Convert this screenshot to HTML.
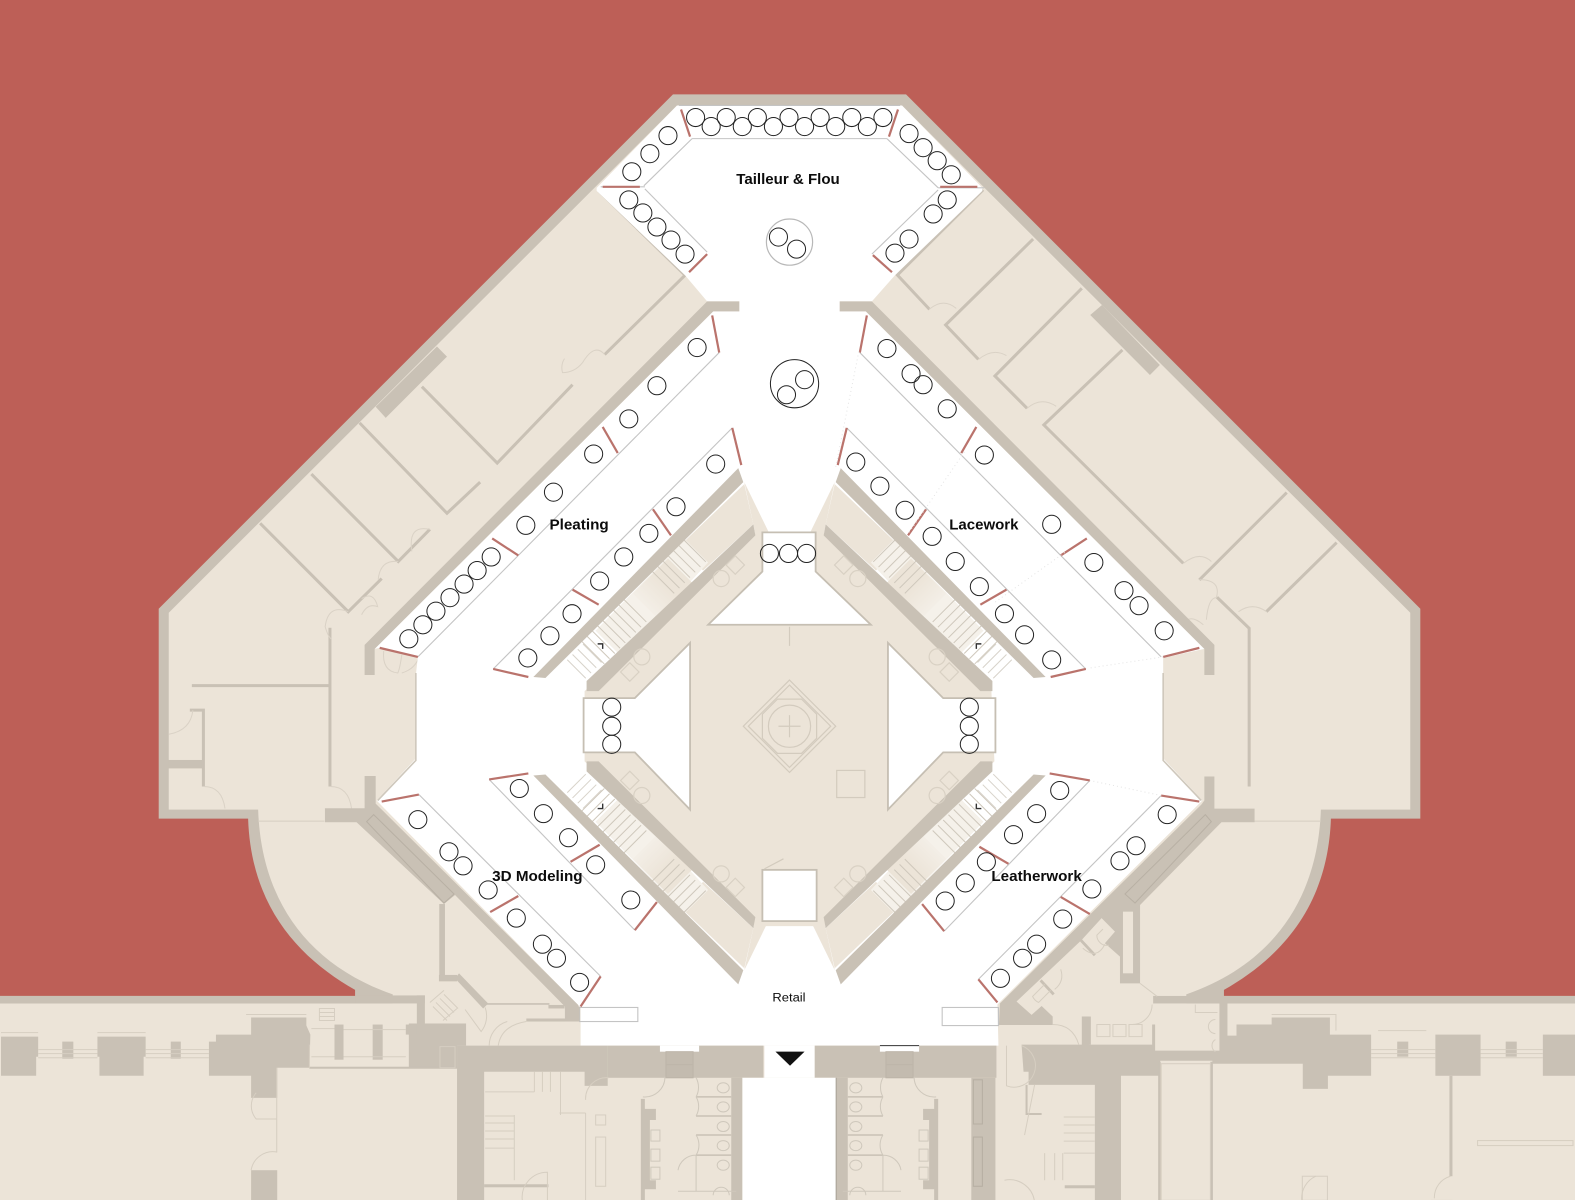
<!DOCTYPE html>
<html><head><meta charset="utf-8"><title>Floor plan</title>
<style>html,body{margin:0;padding:0;background:#BD5F57}svg{display:block}text{font-family:"Liberation Sans",sans-serif;fill:#0c0c0c}</style></head>
<body>
<svg xmlns="http://www.w3.org/2000/svg" width="1575" height="1200" viewBox="0 0 1568 1194.67" preserveAspectRatio="none">
<defs>
<linearGradient id="land" gradientUnits="userSpaceOnUse" x1="660" y1="578" x2="625" y2="613"><stop offset="0" stop-color="#ECE4D8"/><stop offset="1" stop-color="#F8F5F0"/></linearGradient>
<g id="arm">
 <polygon points="741,480 750,522 752,533 590,690 740,690 780,560" fill="#ECE4D8"/>
 <polygon points="741,482 750,522 700,568 675,545" fill="#ECE4D8"/>
 <polygon points="682,537 705,560 605,668 579,642" fill="#F5F1EA"/>
 <polygon points="665,556 691,582 656,617 630,591" fill="url(#land)"/>
 <polygon points="590,625 616,651 596,678 570,650" fill="#fff"/>
 <line x1="692" y1="548" x2="656.5" y2="583.5" stroke="#CFC8BC" stroke-width="31" stroke-dasharray="1 6.4"/>
 <line x1="632.5" y1="607.5" x2="590" y2="650" stroke="#CFC8BC" stroke-width="32" stroke-dasharray="1 6.4"/>
 <line x1="590" y1="650" x2="572" y2="668" stroke="#D8D3CA" stroke-width="26" stroke-dasharray="1 6.4"/>
 <polygon points="735,466 740,480 543,675 531,674" fill="#C9C1B5"/>
 <polygon points="750,522 752,533 596,688 584,688 584,678" fill="#C9C1B5"/>
 <polyline points="595,641 600,641 600,646" fill="none" stroke="#333" stroke-width="1.4"/>
 <g fill="none" stroke="#D9D1C4" stroke-width="1.2">
  <rect x="-6.5" y="-6.5" width="13" height="13" transform="translate(732,562.5) rotate(45)"/>
  <circle cx="718" cy="576" r="8"/>
  <rect x="-6.5" y="-6.5" width="13" height="13" transform="translate(627,669) rotate(45)"/>
  <circle cx="639" cy="654" r="8"/>
 </g>
</g>
<g id="toilets">
 <polygon points="728,1073 739,1073 739,1195 728,1195" fill="#C9C1B5"/>
 <rect x="638" y="1094" width="4" height="101" fill="#C9C1B5"/>
 <polygon points="640,1104 653,1104 653,1115 647,1115 647,1175 653,1175 653,1184 640,1184" fill="#C9C1B5"/>
 <g stroke="#C9C1B5" stroke-width="1.5"><line x1="693" y1="1092" x2="728" y2="1092"/><line x1="693" y1="1111" x2="728" y2="1111"/><line x1="693" y1="1130" x2="728" y2="1130"/><line x1="693" y1="1150" x2="728" y2="1150"/></g>
 <g fill="none" stroke="#CFC8BC" stroke-width="1">
  <ellipse cx="720" cy="1083" rx="6" ry="5"/><ellipse cx="720" cy="1102" rx="6" ry="5"/><ellipse cx="720" cy="1121.5" rx="6" ry="5"/><ellipse cx="720" cy="1140.5" rx="6" ry="5"/><ellipse cx="720" cy="1160" rx="6" ry="5"/>
  <rect x="648" y="1125" width="9" height="11"/><rect x="648" y="1144" width="9" height="12"/><rect x="648" y="1162" width="9" height="12"/>
  <path d="M693,1073 A20,20 0 0 1 693,1092 M693,1092 A19,19 0 0 1 693,1111 M693,1130 A19,19 0 0 1 693,1150 M640,1092 A20,20 0 0 0 662,1072 M675,1165 A18,18 0 0 1 693,1150 V1186 M675,1186 H733 M710,1190 a8,8 0 0 1 16,0"/>
 </g>
</g>
</defs>

<rect width="1568" height="1195" fill="#BD5F57"/>
<!-- outer walls -->
<path d="M670,94 H902 L1414,606 V815 H1325 C1322,905 1272,955 1218.5,985.5 V991.5 H1568 V1195 H0 V991.5 H353.5 V985.5 C300,955 250,905 247,815 H158 V606 Z" fill="#C9C1B5"/>
<!-- beige interior -->
<path d="M674,105 H898 L1404,610 V806 H1315 C1312,895 1267,960 1181,990 V999 H1568 V1195 H0 V999 H391 V990 C305,960 260,895 257,806 H168 V610 Z" fill="#ECE4D8"/>

<!-- room partitions -->
<g fill="none" stroke="#C9C1B5" stroke-width="3" stroke-linejoin="miter">
 <polyline points="596,190 682,274 602,353"/><polyline points="570,383 495,461 420,385"/>
 <polyline points="358,421 445,511 478,480"/><polyline points="310,472 396.5,559 428,527"/><polyline points="259,521 346.7,609 380,576"/>
 <line x1="328.5" y1="625" x2="328.5" y2="783"/><line x1="191" y1="682.6" x2="328" y2="682.6"/>
 <polyline points="189,707 202.5,707 202.5,783"/>
 <polyline points="978.7,189 893.4,273.8 925.4,308"/><polyline points="1028.5,238 941.4,323.5 974,357.7"/><polyline points="1077,287 990.5,374.3 1022.5,406.5"/>
 <polyline points="1117.4,348.4 1039.2,423 1178,560.8"/><line x1="1281" y1="490.4" x2="1194" y2="577.4"/><line x1="1330.7" y1="540.2" x2="1260.7" y2="609"/>
 <polyline points="1211.6,594.6 1243.6,625.5 1243.6,783"/>
</g>
<rect x="167.5" y="756.6" width="35" height="8.4" fill="#C9C1B5"/>
<rect x="1369" y="756.6" width="0" height="0" fill="#C9C1B5"/>
<polygon points="374,405 435,345 445,355 384,416" fill="#C9C1B5"/>
<polygon points="1085.4,313.6 1097.1,303.6 1154.7,363.4 1144.8,373.3" fill="#C9C1B5"/>
<g fill="none" stroke="#DAD2C6" stroke-width="1">
 <path d="M925,308 q14,-12 27,-1 M974,358 q14,-12 28,-4 M1022.5,406.5 q14,-12 29,-2 M1178,561 q16,-13 28,-2 M1261,609 q-14,-10 -28,0 M1194,577 q22,0 17,18"/>
 <path d="M1211,595 q-8,0 -10,22 M1198,622 q-14,-12 -20,0"/>
 <path d="M396.5,559 q-18,-2 -20,18 M346.7,609 q-20,-8 -23,15 q3,10 6,12 M360,596 q12,-8 16,8 q-10,-4 -16,8"/>
 <path d="M428,527 q-22,-5 -18,22 M602,353 q-10,-12 -22,8 q-8,10 -20,10 q-2,-8 2,-14"/>
 <path d="M192,707 q-2,20 -24,24 M203,783 q18,0 21,22 M329,783 q18,0 21,22"/>
 <path d="M382,648 q-2,20 14,22 q2,-4 4,-18 M400,670 q14,-4 18,-18"/>
</g>
<line x1="257" y1="817.5" x2="323" y2="817.5" stroke="#D6CEC1" stroke-width="1"/>
<line x1="1249" y1="817.5" x2="1315" y2="817.5" stroke="#D6CEC1" stroke-width="1"/>

<!-- white circulation -->
<polygon fill="#fff" points="674,105 898,105 978,187 978,190 891,274 868,300 836,300 836,310 862,310 1199,646 1158,655 1158,755 1197,797 993,1000 994,1041 578,1041 578,1003 375,797 414,755 414,672 416,654 378,645 373,646 710,310 736,310 736,300 704,300 682,274 594,190 594,187"/>
<g fill="none" stroke="#CFC8BC" stroke-width="1.6">
 <polyline points="414,670 414,757 376,797"/>
 <polyline points="1158,670 1158,757 1196,797"/>
</g>

<!-- wall stubs and bands -->
<g fill="#C9C1B5">
 <polygon points="736,300 704,300 363,642 363,672 373,672 373,646 710,310 736,310"/>
 <polygon points="836,300 868,300 1209,642 1209,672 1199,672 1199,646 862,310 836,310"/>
 <polygon points="375,801 575.7,1000.5 577.3,1015.4 562.4,1015.4 562.4,1002 453,891 442,900 355,818.6 323.5,818.6 323.5,804.7 363,804.7 363,772.5 374,772.5 374,800"/>
 <polygon points="1196,801 995.5,999 994.5,1020.4 1048,1020.4 1048,1012 1037,1001.5 1027,1010.4 1012,997 1076.8,935.8 1096.7,914 1110,927.5 1100,939 1115,952.4 1115,979 1135,979 1135,901 1216,818.6 1249,818.6 1249,805 1209,805 1209,773 1199,773 1199,797"/>
 <rect x="437.3" y="900" width="5.7" height="72"/>
 <rect x="437" y="970.6" width="18" height="6.4"/>
 <polygon points="453,974 457,969 486,999 481,1004"/>
 <rect x="484" y="998.7" width="63" height="1.6"/>
 <rect x="546" y="1000.5" width="16" height="3.5"/>
 <rect x="525" y="1014" width="38" height="3"/>
 <polygon points="1080,1012 1086,1012 1086,1040 1080,1040"/>
 <polygon points="1075,937 1077,935 1091,950 1089,952"/>
 <polygon points="1035,977 1037,975 1050,989 1048,991"/>
</g>
<rect x="1118" y="907.6" width="10" height="61.4" fill="#ECE4D8"/>
<g fill="none" stroke="#B8B0A4" stroke-width="1">
 <polygon points="365,818 372,811 452,890 442,899"/>
 <polygon points="1206,818 1200,811 1120,890 1130,899"/>
</g>

<!-- core -->
<polygon fill="#ECE4D8" points="752,530 820,530 987,688 990,758 820,922 752,922 582,758 582,688"/>
<use href="#arm"/>
<use href="#arm" transform="translate(1572,0) scale(-1,1)"/>
<use href="#arm" transform="translate(0,1446) scale(1,-1)"/>
<use href="#arm" transform="translate(1572,1446) scale(-1,-1)"/>
<g fill="#fff" stroke="#C6BFB3" stroke-width="1.8">
 <polygon points="759,530 812,530 812,569 867,622 705,622 759,569"/>
 <polygon points="581,695 632,695 687,640 687,806 632,749 581,749"/>
 <polygon points="991,695 939,695 884,640 884,806 939,749 991,749"/>
 <rect x="759" y="866" width="54" height="51"/>
</g>
<g fill="none" stroke="#D3CBBE" stroke-width="1.2">
 <polygon points="786,677 832,723 786,769 740,723"/>
 <polygon points="786,682 827,723 786,764 745,723"/>
 <polygon points="774,696 798,696 813,711 813,735 798,750 774,750 759,735 759,711"/>
 <circle cx="786" cy="723" r="21"/>
 <line x1="775" y1="723" x2="797" y2="723"/><line x1="786" y1="712" x2="786" y2="734"/>
 <rect x="833" y="767" width="28" height="27"/>
 <line x1="786" y1="624" x2="786" y2="643"/>
 <line x1="761" y1="865" x2="780" y2="855"/>
</g>

<!-- niche outlines -->
<g fill="none" stroke="#C4C4C4" stroke-width="1.1">
 <line x1="689" y1="138" x2="883" y2="138"/>
 <line x1="676" y1="105" x2="896" y2="105"/>
 <line x1="689" y1="138" x2="641" y2="185"/><line x1="883" y1="138" x2="934" y2="187"/>
 <line x1="598" y1="186" x2="642" y2="186"/><line x1="934" y1="187" x2="980" y2="187"/>
 <line x1="642" y1="188" x2="704" y2="251"/><line x1="934" y1="189" x2="868" y2="253"/>
 <line x1="716" y1="351" x2="416" y2="654"/><line x1="856" y1="351" x2="1156" y2="654"/>
 <line x1="729" y1="426" x2="491" y2="666"/><line x1="843" y1="426" x2="1081" y2="666"/>
 <line x1="417" y1="791" x2="598" y2="972"/><line x1="1156" y1="792" x2="974" y2="975"/>
 <line x1="487" y1="776" x2="632" y2="926"/><line x1="1085" y1="777" x2="940" y2="927"/>
 <rect x="577" y="1003" width="58" height="14"/><rect x="938" y="1003" width="56" height="18"/>
</g>
<circle cx="786" cy="241" r="23" fill="#fff" stroke="#B8B8B8" stroke-width="1.2"/>

<!-- red dividers -->
<g stroke="#BA736C" stroke-width="2.2" fill="none">
 <line x1="678" y1="109" x2="687" y2="136"/><line x1="894" y1="109" x2="885" y2="136"/>
 <line x1="600" y1="186" x2="637" y2="186"/><line x1="936" y1="186" x2="973" y2="186"/>
 <line x1="704" y1="253" x2="686" y2="271"/><line x1="869" y1="254" x2="888" y2="271"/>
 <line x1="709" y1="314" x2="716" y2="351"/><line x1="863" y1="314" x2="856" y2="351"/>
 <line x1="600" y1="425" x2="615" y2="451"/><line x1="972" y1="425" x2="957" y2="451"/>
 <line x1="490" y1="536" x2="516" y2="553"/><line x1="1082" y1="536" x2="1056" y2="553"/>
 <line x1="378" y1="645" x2="416" y2="654"/><line x1="1194" y1="645" x2="1158" y2="654"/>
 <line x1="729" y1="426" x2="738" y2="463"/><line x1="843" y1="426" x2="834" y2="463"/>
 <line x1="650" y1="507" x2="668" y2="533"/><line x1="922" y1="507" x2="904" y2="533"/>
 <line x1="570" y1="587" x2="596" y2="602"/><line x1="1002" y1="587" x2="976" y2="602"/>
 <line x1="491" y1="666" x2="526" y2="674"/><line x1="1081" y1="666" x2="1046" y2="674"/>
 <line x1="380" y1="798" x2="417" y2="791"/><line x1="1156" y1="792" x2="1194" y2="798"/>
 <line x1="487" y1="776" x2="526" y2="770"/><line x1="1045" y1="770" x2="1085" y2="777"/>
 <line x1="488" y1="908" x2="516" y2="892"/><line x1="1056" y1="893" x2="1085" y2="910"/>
 <line x1="568" y1="858" x2="597" y2="841"/><line x1="975" y1="843" x2="1004" y2="860"/>
 <line x1="632" y1="926" x2="654" y2="898"/><line x1="918" y1="900" x2="940" y2="927"/>
 <line x1="578" y1="1002" x2="598" y2="972"/><line x1="974" y1="975" x2="993" y2="998"/>
</g>

<!-- faint dotted -->
<g stroke="#E4E4E4" stroke-width="1" stroke-dasharray="1 3" fill="none">
 <line x1="855" y1="350" x2="832" y2="465"/><line x1="960" y1="450" x2="905" y2="530"/><line x1="1060" y1="550" x2="990" y2="600"/><line x1="1158" y1="654" x2="1085" y2="665"/><line x1="1156" y1="792" x2="1085" y2="777"/>
</g>

<!-- circles -->
<g fill="none" stroke="#222" stroke-width="1">
 <g><circle cx="692.5" cy="117" r="9"/><circle cx="708" cy="126" r="9"/><circle cx="723" cy="117" r="9"/><circle cx="739" cy="126" r="9"/><circle cx="754" cy="117" r="9"/><circle cx="770" cy="126" r="9"/><circle cx="785.5" cy="117" r="9"/><circle cx="801" cy="126" r="9"/><circle cx="816.5" cy="117" r="9"/><circle cx="832" cy="126" r="9"/><circle cx="848" cy="117" r="9"/><circle cx="863.5" cy="126" r="9"/><circle cx="879" cy="117" r="9"/></g>
 <g><circle cx="665" cy="135" r="9"/><circle cx="647" cy="153" r="9"/><circle cx="629" cy="171" r="9"/>
 <circle cx="626" cy="199" r="9"/><circle cx="640" cy="212" r="9"/><circle cx="654" cy="226" r="9"/><circle cx="668" cy="239" r="9"/><circle cx="682" cy="253" r="9"/>
 <circle cx="905" cy="133" r="9"/><circle cx="919" cy="147" r="9"/><circle cx="933" cy="160" r="9"/><circle cx="947" cy="174" r="9"/>
 <circle cx="943" cy="199" r="9"/><circle cx="929" cy="213" r="9"/><circle cx="905" cy="238" r="9"/><circle cx="891" cy="252" r="9"/>
 <circle cx="775" cy="236" r="9"/><circle cx="793" cy="248" r="9"/>
 <circle cx="791" cy="382" r="24"/><circle cx="801" cy="378" r="9"/><circle cx="783" cy="393" r="9"/></g>
 <g><circle cx="694" cy="346" r="9"/><circle cx="654" cy="384" r="9"/><circle cx="626" cy="417" r="9"/><circle cx="591" cy="452" r="9"/><circle cx="551" cy="490" r="9"/><circle cx="523.5" cy="523" r="9"/><circle cx="489" cy="554.5" r="9"/><circle cx="475" cy="568" r="9"/><circle cx="462" cy="581.5" r="9"/><circle cx="448" cy="595" r="9"/><circle cx="434" cy="608.5" r="9"/><circle cx="421" cy="622" r="9"/><circle cx="407" cy="636" r="9"/>
 <circle cx="712.5" cy="462" r="9"/><circle cx="673" cy="504.5" r="9"/><circle cx="646" cy="531" r="9"/><circle cx="621" cy="554.5" r="9"/><circle cx="597" cy="578.5" r="9"/><circle cx="569.5" cy="611" r="9"/><circle cx="547.5" cy="633" r="9"/><circle cx="525.5" cy="655" r="9"/></g>
 <g><circle cx="766" cy="551" r="9"/><circle cx="785" cy="551" r="9"/><circle cx="803" cy="551" r="9"/>
 <circle cx="609" cy="704" r="9"/><circle cx="609" cy="723" r="9"/><circle cx="609" cy="741" r="9"/>
 <circle cx="965" cy="704" r="9"/><circle cx="965" cy="723" r="9"/><circle cx="965" cy="741" r="9"/></g>
 <g><circle cx="883" cy="347" r="9"/><circle cx="907" cy="372" r="9"/><circle cx="919" cy="383" r="9"/><circle cx="943" cy="407" r="9"/><circle cx="980" cy="453" r="9"/><circle cx="1047" cy="522" r="9"/><circle cx="1089" cy="560" r="9"/><circle cx="1119" cy="588" r="9"/><circle cx="1134" cy="603" r="9"/><circle cx="1159" cy="628" r="9"/>
 <circle cx="852" cy="460" r="9"/><circle cx="876" cy="484" r="9"/><circle cx="901" cy="508" r="9"/><circle cx="928" cy="534" r="9"/><circle cx="951" cy="559" r="9"/><circle cx="975" cy="584" r="9"/><circle cx="1000" cy="611" r="9"/><circle cx="1020" cy="632" r="9"/><circle cx="1047" cy="657" r="9"/></g>
 <g><circle cx="416" cy="816" r="9"/><circle cx="447" cy="848" r="9"/><circle cx="461" cy="862" r="9"/><circle cx="486" cy="886" r="9"/><circle cx="514" cy="914" r="9"/><circle cx="540" cy="940" r="9"/><circle cx="554" cy="954" r="9"/><circle cx="577" cy="978" r="9"/>
 <circle cx="517" cy="785" r="9"/><circle cx="541" cy="810" r="9"/><circle cx="566" cy="834" r="9"/><circle cx="593" cy="861" r="9"/><circle cx="628" cy="896" r="9"/></g>
 <g><circle cx="1162" cy="811" r="9"/><circle cx="1131" cy="842" r="9"/><circle cx="1115" cy="857" r="9"/><circle cx="1087" cy="885" r="9"/><circle cx="1058" cy="915" r="9"/><circle cx="1032" cy="940" r="9"/><circle cx="1018" cy="954" r="9"/><circle cx="996" cy="974" r="9"/>
 <circle cx="1055" cy="787" r="9"/><circle cx="1032" cy="810" r="9"/><circle cx="1009" cy="831" r="9"/><circle cx="982" cy="858" r="9"/><circle cx="961" cy="879" r="9"/><circle cx="941" cy="897" r="9"/></g>
</g>

<!-- lower building walls -->
<g fill="#C9C1B5">
 <rect x="354" y="991" width="69" height="8"/><rect x="1148" y="991.5" width="70" height="7.5"/>
 <polygon points="415,991 423,991 423,1019 464,1019 464,1041 455,1041 455,1063 407,1063 407,1019 415,1019"/>
 <polygon points="455,1041 605,1041 605,1081 582,1081 582,1067 482,1067 482,1195 455,1195"/>
 <rect x="605" y="1041" width="155" height="32"/>
 <rect x="811" y="1041" width="181" height="32"/>
 <rect x="967" y="1073" width="24" height="122"/>
 <polygon points="1,1032 38,1032 38,1052 36,1052 36,1071 1,1071"/>
 <polygon points="97,1032 145,1032 145,1052 143,1052 143,1071 99,1071 99,1052 97,1052"/>
 <rect x="62" y="1037" width="11" height="17"/><rect x="170" y="1037" width="10" height="17"/>
 <polygon points="208,1037 215,1037 215,1030 250,1030 250,1013 305,1013 305,1021 309,1030 308,1063 276,1063 276,1093 250,1093 250,1071 208,1071"/>
 <rect x="333" y="1020" width="9" height="35"/><rect x="371" y="1020" width="10" height="35"/><rect x="404" y="1020" width="11" height="10"/>
 <rect x="250" y="1165" width="26" height="30"/>
 <rect x="308" y="1062" width="147" height="2"/>
 <polygon points="1017,1040 1077,1040 1077,1012 1084,1012 1084,1040 1147,1040 1147,1020 1150,1020 1150,1046 1214,1046 1214,999 1222,999 1222,1031 1231,1031 1231,1020 1266,1020 1266,1013 1324,1013 1324,1030 1365,1030 1365,1071 1322,1071 1322,1084 1297,1084 1297,1059 1207,1059 1207,1056 1155,1056 1155,1071 1116,1071 1116,1195 1090,1195 1090,1080 1024,1080 1024,1067 1019,1067"/>
 <rect x="1429" y="1030" width="45" height="41"/><rect x="1536" y="1030" width="32" height="41"/>
 <rect x="1391" y="1037" width="11" height="15"/><rect x="1499" y="1037" width="11" height="15"/>
 <rect x="1443" y="1071" width="3" height="100"/>
 <polygon points="564,1002 577,1002 577,1017 524,1017 524,1014 564,1014"/>
 <rect x="482" y="1179" width="64" height="3"/>
 <rect x="1153" y="1057" width="2.5" height="138"/><rect x="1205" y="1057" width="2.5" height="138"/>
 <polyline points="1021,1080 1021,1110 1037,1110 1037,1108 1023,1108 1023,1080"/>
 <rect x="1060" y="1180" width="30" height="3"/>
</g>
<g fill="none" stroke="#D6CEC1" stroke-width="1">
 <path d="M1,1028 H38 M38,1045 H97 M38,1049 H97 M38,1053 H97 M145,1045 H208 M145,1049 H208 M145,1053 H208 M97,1028 H145 M245,1010 H305"/>
 <path d="M1365,1045 H1429 M1365,1049 H1429 M1365,1053 H1429 M1474,1045 H1536 M1474,1049 H1536 M1474,1053 H1536 M1266,1010 H1330 V1026 M1372,1026 H1420"/>
 <path d="M318,1004 H333 V1016 H318 Z M318,1008 H333 M318,1012 H333 M310,1024 H333 M310,1052 H333 M342,1025 H404 M342,1052 H404 M308,1040 V1063"/>
 <path d="M438,1042 h15 v21 h-15 z"/>
 <path d="M483,1111 H512 M483,1118 H512 M483,1126 H512 M483,1134 H512 M483,1143 H512 M512,1110 V1175 M532,1067 V1087 M540,1067 V1087 M548,1067 V1087 M558,1067 V1110 M483,1087 H532 M557,1108 H583 M583,1108 V1195"/>
 <rect x="593" y="1132" width="10" height="49"/><rect x="593" y="1110" width="10" height="10"/>
 <path d="M606,1073 a21,21 0 0 0 -23,22 M505,1017 a25,25 0 0 0 -18,24 M275.5,1063 V1147 M255,1088 a20,20 0 0 0 0,26 h21 M276,1147 a22,22 0 0 0 -26,18 M545,1195 v-28 a25,25 0 0 0 -25,28"/>
 <path d="M1002,1041 v40 a18,18 0 0 0 15,-40 M1059,1112 H1090 M1059,1120 H1090 M1059,1128 H1090 M1059,1136 H1090 M1059,1148 H1090 M1040,1148 V1175 M1050,1148 V1175 M1058,1148 V1175 M1030,1080 L1020,1130 M1000,1175 a25,25 0 0 1 30,22"/>
 <rect x="1156" y="1059" width="49" height="136"/>
 <rect x="1296.5" y="1171" width="25" height="24"/><rect x="1471" y="1135.5" width="95" height="5"/>
 <path d="M1296,1195 a24,24 0 0 1 14,-24 M1444,1171 a22,22 0 0 0 -16,22 M1425,1195 H1446"/>
 <path d="M1147,1000 a20,20 0 0 1 -20,20 M1092,1020 h13 v12 h-13 z M1108,1020 h13 v12 h-13 z M1124,1020 h13 v12 h-13 z M1190,1000 v8 h22 M1210,1015 a7,7 0 0 0 0,14 M1210,1035 a7,7 0 0 0 0,12 M1048,1020 q20,0 26,20 M1135,979 l17,13"/>
 <path d="M1098,925 l-6,6 a10,10 0 0 0 12,10 M1040,980 l-12,12 a12,12 0 0 0 6,6 l12,-12 M1050,985 q10,-8 6,-20 M1100,940 q-8,16 -22,4"/>
 <path d="M431,1002 l14,14 M434,998 l14,14 M438,994 l14,14 M442,990 l14,14 M428,998 l14,-12 M441,1016 l14,-12 M483,1003 a25,25 0 0 1 -4,24 l-16,-22 M524,1017 q-25,4 -28,24"/>
</g>

<!-- white passages -->
<rect x="657" y="1041" width="39" height="6" fill="#fff"/>
<rect x="876" y="1041" width="39" height="6" fill="#fff"/>
<line x1="876" y1="1041" x2="915" y2="1041" stroke="#333" stroke-width="1"/>
<rect x="761" y="1041" width="50" height="32" fill="#fff"/>
<rect x="739" y="1073" width="93" height="122" fill="#fff"/>
<line x1="832.5" y1="1073" x2="832.5" y2="1195" stroke="#9c958a" stroke-width="1"/>
<polygon points="772,1047 801,1047 786.5,1061" fill="#111"/>
<g stroke="#BDB5A9" stroke-width="1"><rect x="663" y="1047" width="27" height="26" fill="#C3BBAF"/><rect x="882" y="1047" width="27" height="26" fill="#C3BBAF"/><line x1="663" y1="1060" x2="690" y2="1060"/><line x1="882" y1="1060" x2="909" y2="1060"/></g>
<use href="#toilets"/>
<use href="#toilets" transform="translate(1572,0) scale(-1,1)"/>
<rect x="969" y="1075" width="9" height="44" fill="none" stroke="#B6AEA2" stroke-width="1"/>
<rect x="969" y="1132" width="9" height="49" fill="none" stroke="#B6AEA2" stroke-width="1"/>

<!-- labels -->
<g font-weight="700" font-size="14.5">
 <text x="733" y="183" textLength="103" lengthAdjust="spacingAndGlyphs">Tailleur &amp; Flou</text>
 <text x="547" y="527" textLength="59" lengthAdjust="spacingAndGlyphs">Pleating</text>
 <text x="945" y="527" textLength="69" lengthAdjust="spacingAndGlyphs">Lacework</text>
 <text x="490" y="877" textLength="90" lengthAdjust="spacingAndGlyphs">3D Modeling</text>
 <text x="987" y="877" textLength="90" lengthAdjust="spacingAndGlyphs">Leatherwork</text>
</g>
<text x="769" y="997" font-size="11.5" textLength="33" lengthAdjust="spacingAndGlyphs">Retail</text>
</svg>
</body></html>
